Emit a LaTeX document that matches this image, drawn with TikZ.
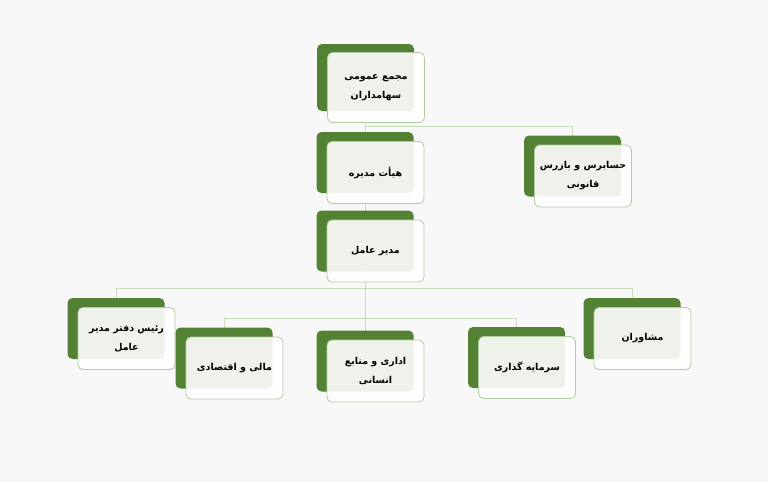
\documentclass[tikz,border=0pt]{standalone}
\usepackage{fontspec}
\newfontfamily\persianfont[Script=Arabic]{DejaVu Sans}
\TeXXeTstate=1
\usetikzlibrary{backgrounds}
\definecolor{darkgreen}{HTML}{548235}
\definecolor{linkgreen}{HTML}{C8DBBD}
\definecolor{edgegreen}{HTML}{B3CBA3}
\definecolor{paper}{HTML}{F8F8F8}
\newcommand{\fa}[1]{\beginR #1\endR}
\newcommand{\dx}{10.5}
\newcommand{\dy}{10}
\tikzset{
  back/.style={rectangle, rounded corners=5pt, fill=darkgreen, minimum width=97pt, minimum height=61pt, inner sep=0pt},
  front/.style={rectangle, rounded corners=5pt, draw=edgegreen, line width=0.8pt, fill=white, fill opacity=0.9, text opacity=1, minimum width=97pt, minimum height=62pt, inner sep=0pt, align=center, font=\persianfont\bfseries\fontsize{9.5}{19}\selectfont},
  link/.style={linkgreen, line width=0.8pt}
}

\begin{document}
\begin{tikzpicture}[x=1pt, y=-1pt]

        \useasboundingbox (0,0) rectangle (768,482);
        \begin{scope}[on background layer]
            \fill[paper] (0,0) rectangle (768,482);
        \end{scope}

        % top of the chart
        \node[back, minimum height=67pt] (bMajma) at (365.5,77.5) {};
        \node[front, minimum height=70pt] (majma) at ([shift={(\dx,\dy)}]bMajma.center) {\fa{مجمع عمومی}\\\fa{سهامداران}};

        \node[back] (bHiat) at (365,162.5) {};
        \node[front] (hiat) at ([shift={(\dx,\dy)}]bHiat.center) {\fa{هیأت مدیره}};

        \node[back] (bHesab) at (572.5,166) {};
        \node[front] (hesab) at ([shift={(\dx,\dy)}]bHesab.center) {\fa{حسابرس و بازرس}\\\fa{قانونی}};

        \node[back] (bModir) at (365,241) {};
        \node[front] (modir) at ([shift={(\dx,\dy)}]bModir.center) {\fa{مدیر عامل}};

        % bottom row
        \node[back] (bRais) at (116,328.5) {};
        \node[front] (rais) at ([shift={(\dx,\dy)}]bRais.center) {\fa{رئیس دفتر مدیر}\\\fa{عامل}};

        \node[back] (bMali) at (224,358) {};
        \node[front] (mali) at ([shift={(\dx,\dy)}]bMali.center) {\fa{مالی و اقتصادی}};

        \node[back] (bEdari) at (365,361) {};
        \node[front] (edari) at ([shift={(\dx,\dy)}]bEdari.center) {\fa{اداری و منابع}\\\fa{انسانی}};

        \node[back] (bSarmaye) at (516.5,357.5) {};
        \node[front] (sarmaye) at ([shift={(\dx,\dy)}]bSarmaye.center) {\fa{سرمایه گذاری}};

        \node[back] (bMosh) at (632,328.5) {};
        \node[front] (mosh) at ([shift={(\dx,\dy)}]bMosh.center) {\fa{مشاوران}};

        % connectors
        \coordinate (j1) at (365,126);
        \coordinate (j2) at (365,288);
        \coordinate (j3) at (365,318);

        \begin{scope}[on background layer]
            \draw[link] (bMajma.center) -- (bHiat.center);
            \draw[link] (j1) -| (bHesab.center);
            \draw[link] (bHiat.center) -- (bModir.center);
            \draw[link] (bModir.center) -- (bEdari.center);
            \draw[link] (j2) -| (bRais.center);
            \draw[link] (j2) -| (bMosh.center);
            \draw[link] (j3) -| (bMali.center);
            \draw[link] (j3) -| (bSarmaye.center);
        \end{scope}

\end{tikzpicture}
\end{document}
